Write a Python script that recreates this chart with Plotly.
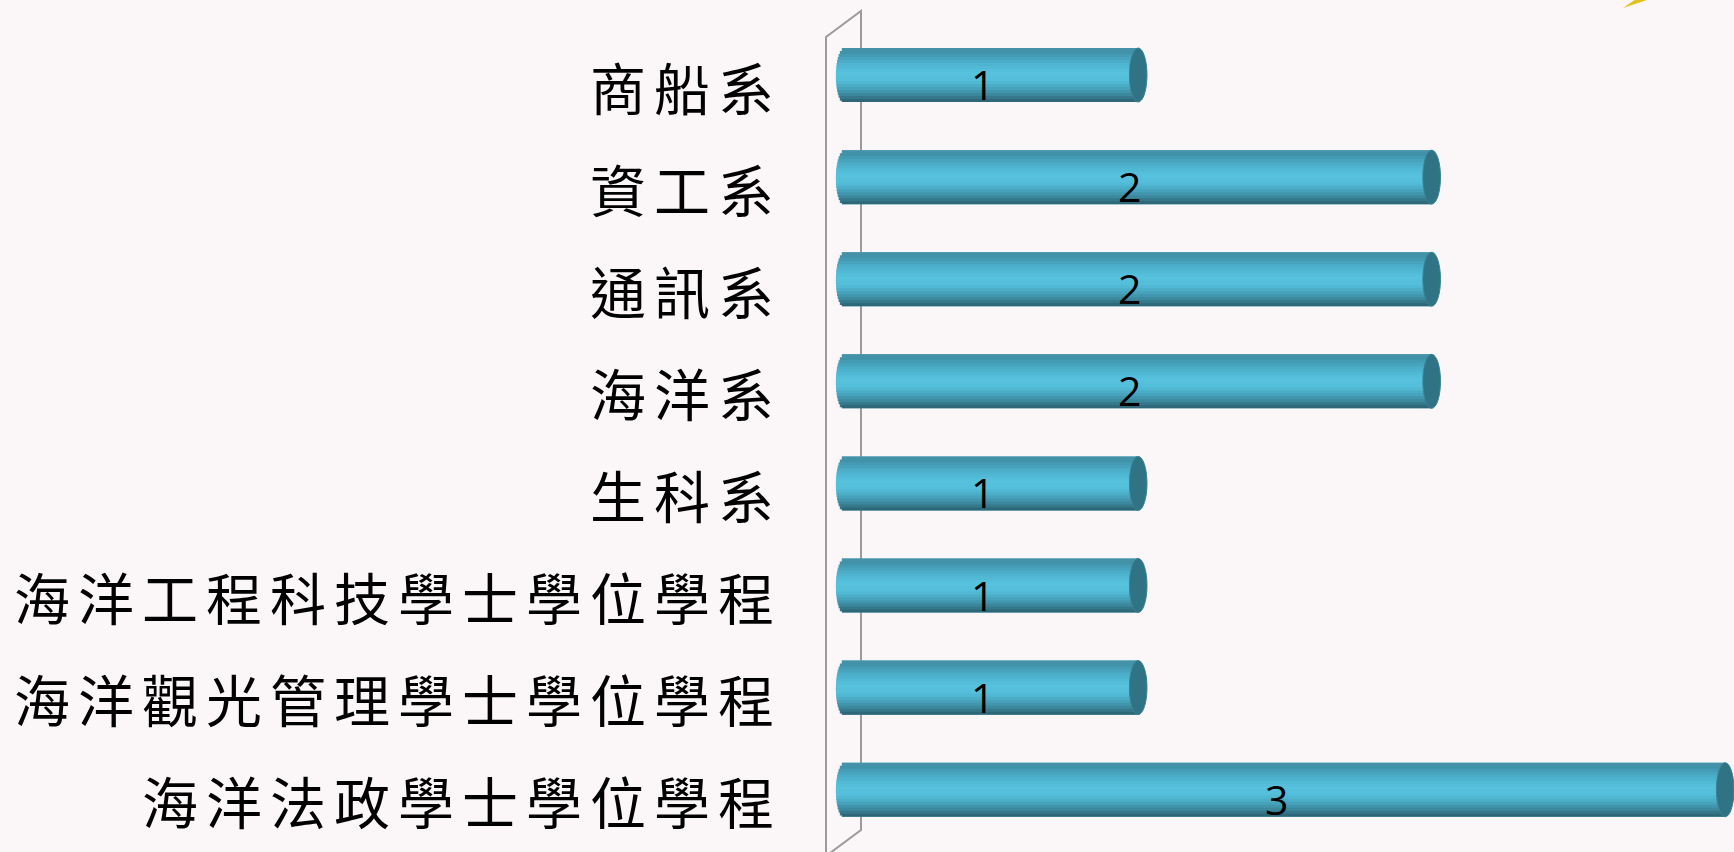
import numpy as np
import plotly.graph_objects as go

# ---- data ----
categories = ["商船系", "資工系", "通訊系", "海洋系", "生科系",
              "海洋工程科技學士學位學程", "海洋觀光管理學士學位學程", "海洋法政學士學位學程"]
values = [1, 2, 2, 2, 1, 1, 1, 3]

# ---- styling ----
BG = "#FBF7F8"
W, H = 1734, 852
ML, MR, MT, MB = 830, 0, 10, 10
XR = [-0.05, 3.03]
YR = [7.365, -0.784]
bar_w = 0.529          # bar thickness (category units)
bar_shift = -0.147     # bar centre shifted up from the label centre
rx = 0.03              # end-cap half width (x units)
N = 18                 # gradient bands

stops = [(0.00, "#4c98ad"), (0.05, "#3f8ea4"), (0.25, "#4badc8"), (0.45, "#57c2de"),
         (0.60, "#55bfdb"), (0.75, "#47a3bc"), (0.88, "#3a8398"), (1.00, "#2b5f6e")]


def hex2rgb(h):
    h = h.lstrip("#")
    return np.array([int(h[i:i + 2], 16) for i in (0, 2, 4)], float)


def color_at(p):
    for (p0, c0), (p1, c1) in zip(stops[:-1], stops[1:]):
        if p0 <= p <= p1:
            f = (p - p0) / (p1 - p0)
            c = hex2rgb(c0) * (1 - f) + hex2rgb(c1) * f
            return "rgb(%d,%d,%d)" % tuple(c.round())
    return stops[-1][1]


fig = go.Figure()
off0 = bar_shift - bar_w / 2
bw = bar_w / N

# base body in mid colour (hides seams between bands)
fig.add_trace(go.Bar(
    y=categories, x=[v + rx * 0.3 for v in values], base=-rx * 0.3, orientation="h",
    width=bar_w, offset=off0, marker=dict(color="#4aaac4", line=dict(width=0)),
    hoverinfo="skip", showlegend=False,
))
for k in range(N):
    p = (k + 0.5) / N
    t = 2 * p - 1
    s = np.sqrt(max(0.0, 1 - t * t))
    ext = 1.0 if k < N - 1 else 1.0
    fig.add_trace(go.Bar(
        y=categories,
        x=[v + rx * s for v in values],
        base=-rx * s,
        orientation="h",
        width=bw * (1.6 if k < N - 1 else 1.0),
        offset=off0 + k * bw,
        marker=dict(color=color_at(p), line=dict(width=0)),
        hoverinfo="skip",
        showlegend=False,
    ))

shapes = []
# side wall (decorative frame)
px = lambda x: (x - ML) / (W - ML - MR)
py = lambda y: (H - MB - y) / (H - MT - MB)
wall = "M {a},{b} L {a},{c} L {d},{e} L {d},{f} L {a},{b} Z".format(
    a=px(826), b=py(37), c=py(856), d=px(861), e=py(830), f=py(11))
shapes.append(dict(type="path", xref="paper", yref="paper", path=wall,
                   line=dict(color="#9b9b9b", width=2), fillcolor="rgba(0,0,0,0)", layer="below"))
# end caps
for i, v in enumerate(values):
    shapes.append(dict(type="circle", xref="x", yref="y",
                       x0=v - rx, x1=v + rx, y0=i + off0, y1=i + off0 + bar_w,
                       fillcolor="#2f7384", line=dict(color="#3b8294", width=1), layer="above"))
# small yellow decoration at top right
shapes.append(dict(type="path", xref="paper", yref="paper",
                   path="M {},{} L {},{} L {},{} Z".format(px(1623), py(8), px(1636), py(-1), px(1650), py(-1)),
                   fillcolor="#e2c21a", line=dict(width=0)))

annotations = []
for i, (c, v) in enumerate(zip(categories, values)):
    annotations.append(dict(x=v / 2 - rx, y=c, xref="x", yref="y", text=str(v), showarrow=False,
                            yshift=6, font=dict(family="Open Sans", size=41, color="black")))

fig.update_layout(
    width=W, height=H,
    margin=dict(l=ML, r=MR, t=MT, b=MB, pad=0),
    paper_bgcolor=BG, plot_bgcolor="rgba(0,0,0,0)",
    barmode="overlay",
    shapes=shapes, annotations=annotations,
    xaxis=dict(range=XR, visible=False, showgrid=False, zeroline=False),
    yaxis=dict(type="category", categoryarray=categories, range=YR, showgrid=False,
               zeroline=False, showline=False, ticks="", ticklabelstandoff=47,
               tickfont=dict(family="Noto Sans CJK TC", size=56, color="black")),
)

post = """
document.body.style.margin='0';
var gd = document.getElementById('{plot_id}');
gd.querySelectorAll('.ytick text').forEach(function(t){ t.setAttribute('letter-spacing','8px'); });
"""
fig.write_html("out.html", post_script=post, config={"displayModeBar": False})
